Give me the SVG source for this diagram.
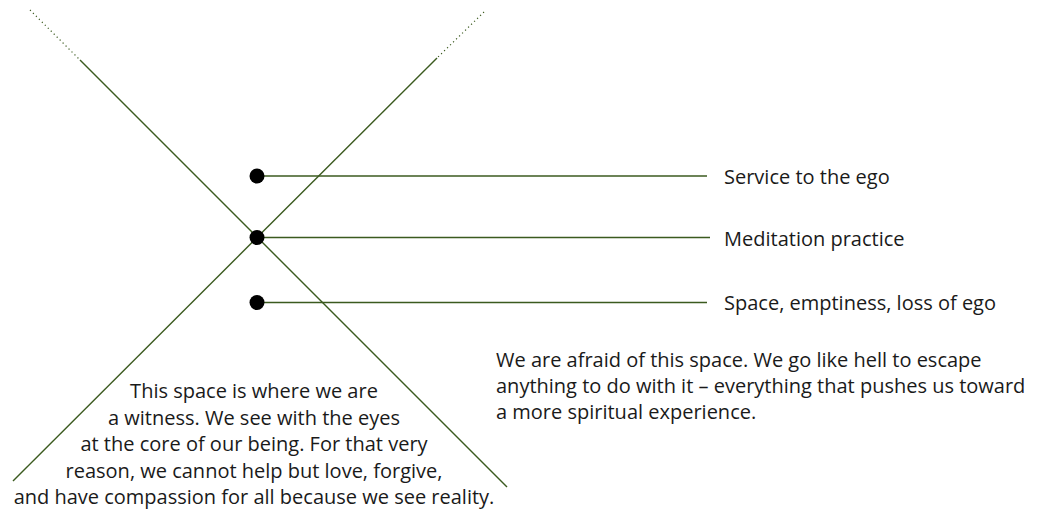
<svg xmlns="http://www.w3.org/2000/svg" width="1047" height="511" viewBox="0 0 1047 511">
<style>
.ln{stroke:#3b5a1f;stroke-width:1.4;fill:none}
.dt{stroke:#3b5a1f;stroke-width:1.2;stroke-dasharray:1.2 3;fill:none}
.t{font-family:"Open Sans","Noto Sans",sans-serif;font-size:20px;fill:#1a1a1a}
.dot{fill:#000}
</style>
<rect width="1047" height="511" fill="#fff"/>
<g id="connectors">
<path class="dt" d="M30,10 L80,60"/>
<path class="ln" d="M80,60 L507,487"/>
<path class="dt" d="M484,12 L437,58"/>
<path class="ln" d="M437,58 L13,481"/>
<path class="ln" d="M257,176 L707,176"/>
<path class="ln" d="M257,237.5 L710,237.5"/>
<path class="ln" d="M257,302.5 L707,302.5"/>
</g>
<g id="node-service">
<circle class="dot" cx="257" cy="176" r="7.5"/>
<text class="t" x="724" y="184">Service to the ego</text>
</g>
<g id="node-meditation">
<circle class="dot" cx="257" cy="237.5" r="7.5"/>
<text class="t" x="724" y="245.5">Meditation practice</text>
</g>
<g id="node-space">
<circle class="dot" cx="257" cy="302.5" r="7.5"/>
<text class="t" x="724" y="310">Space, emptiness, loss of ego</text>
</g>
<g id="note-afraid">
<text class="t" x="496" y="366.5">We are afraid of this space. We go like hell to escape</text>
<text class="t" x="496" y="392.8">anything to do with it – everything that pushes us toward</text>
<text class="t" x="496" y="419">a more spiritual experience.</text>
</g>
<g id="note-witness">
<text class="t" x="254" y="398.3" text-anchor="middle">This space is where we are</text>
<text class="t" x="254" y="424.8" text-anchor="middle">a witness. We see with the eyes</text>
<text class="t" x="254" y="451.3" text-anchor="middle">at the core of our being. For that very</text>
<text class="t" x="254" y="477.8" text-anchor="middle">reason, we cannot help but love, forgive,</text>
<text class="t" x="254" y="504.3" text-anchor="middle">and have compassion for all because we see reality.</text>
</g>
</svg>
